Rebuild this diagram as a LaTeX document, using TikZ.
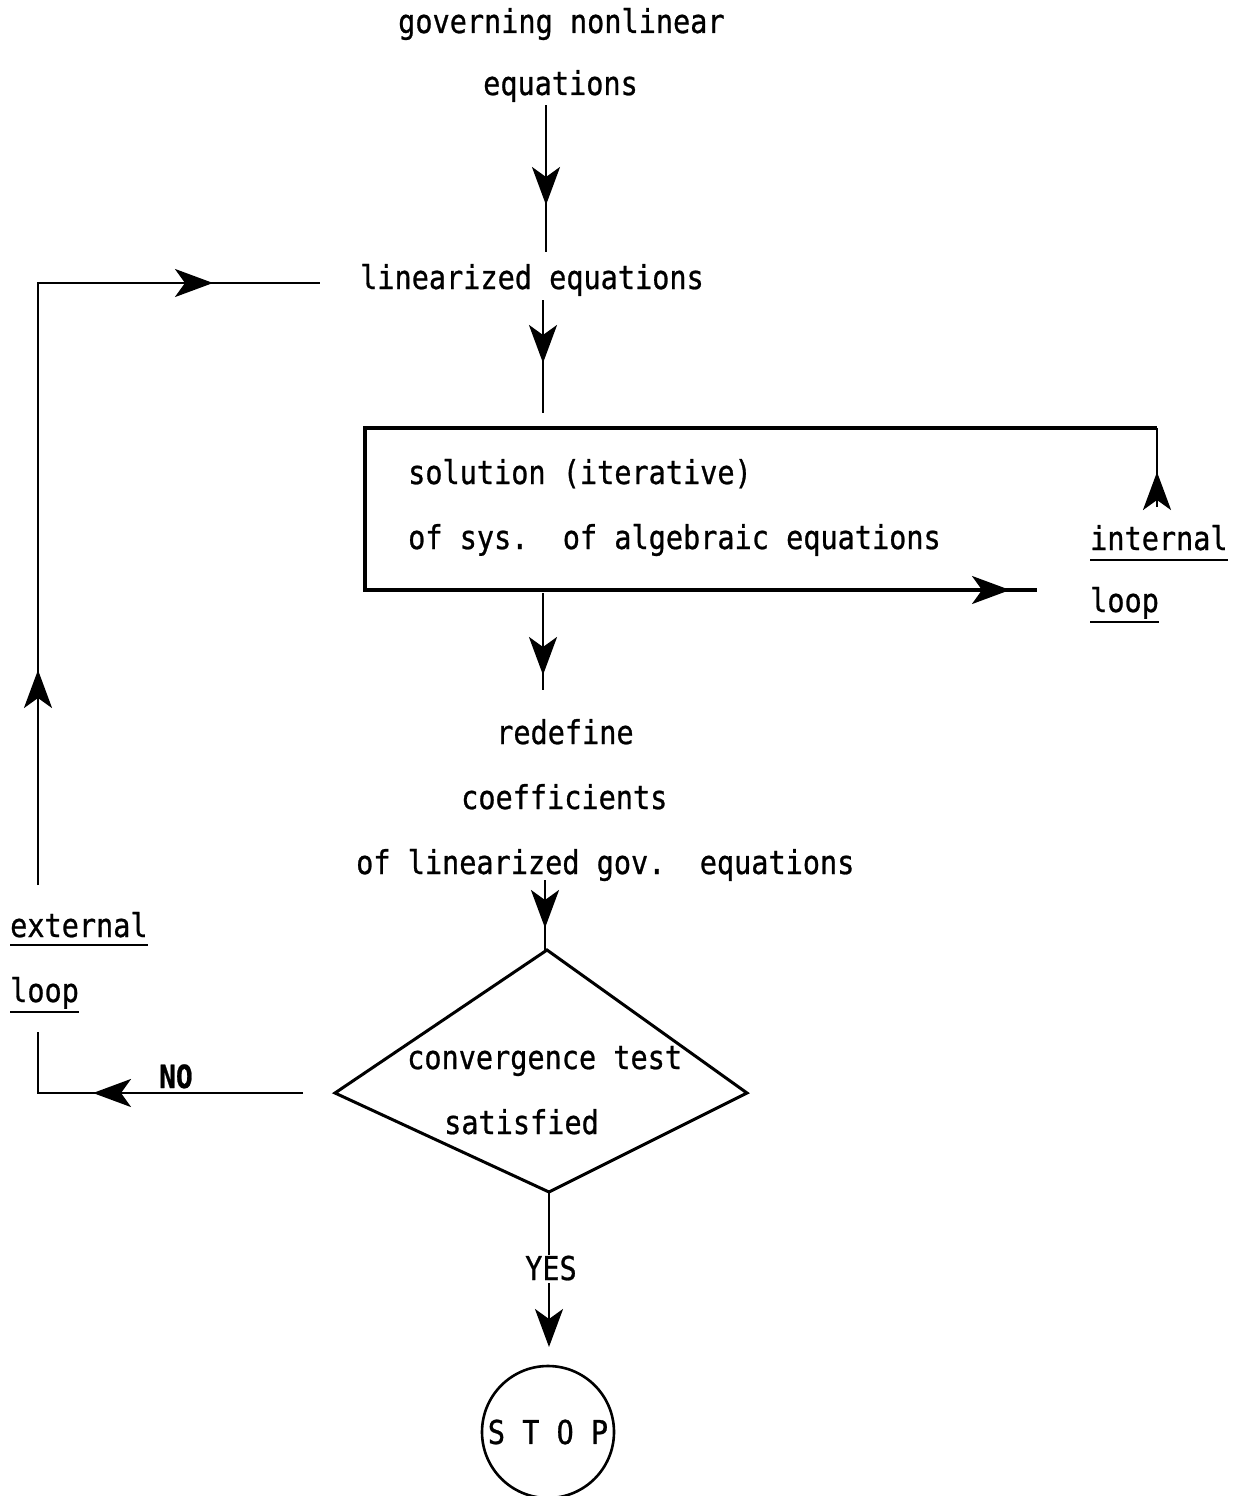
\documentclass[tikz,border=0pt]{standalone}
\usepackage{fontspec}
\setmonofont[FakeStretch=0.87,FakeBold=0.8]{DejaVu Sans Mono}
\usetikzlibrary{arrows.meta,decorations.markings}

\tikzset{
  headtip/.tip={Stealth[length=38pt,width=28pt,inset=10pt]},
  txt/.style={font=\ttfamily\fontsize{32.8}{36}\selectfont, inner sep=0pt, anchor=base west},
  conn/.style={line width=2.8pt},
  frame/.style={line width=3.2pt, line join=miter},
  midarr/.style={postaction={decorate,decoration={markings,
      mark=at position #1 with {\arrow{headtip}}}}},
  ul/.style={line width=2.4pt}
}

\begin{document}
\begin{tikzpicture}[x=1pt,y=-1pt]
\useasboundingbox (0,0) rectangle (1239,1496);

% ---- text lines ----
\node[txt] (gov1) at (398,33) {governing nonlinear};
\node[txt] (gov2) at (483,95) {equations};
\node[txt] (lin)  at (360,289) {linearized equations};
\node[txt] (sol1) at (408,484) {solution (iterative)};
\node[txt] (sol2) at (408,549) {of sys.\ \ of algebraic equations};
\node[txt] (intl) at (1090,550) {internal};
\node[txt] (intl2) at (1090,612) {loop};
\node[txt] (red1) at (496,744) {redefine};
\node[txt] (red2) at (461,809) {coefficients};
\node[txt] (red3) at (356,874) {of linearized gov.\ \ equations};
\node[txt] (extl) at (10,937) {external};
\node[txt] (extl2) at (10,1002) {loop};
\node[txt] (conv1) at (407,1069) {convergence test};
\node[txt] (conv2) at (444,1134) {satisfied};
\node[txt,font=\ttfamily\bfseries\fontsize{32}{36}\selectfont] (no) at (159,1088) {NO};
\node[txt] (yes) at (525,1280) {YES};
\node[circle, draw, line width=2.6pt, minimum size=132pt, inner sep=0pt,
      font=\ttfamily\fontsize{32.8}{36}\selectfont] (stop) at (548,1432) {S T O P};

% ---- underlines of the loop labels ----
\draw[ul] ([yshift=-10pt]intl.base west) -- ([yshift=-10pt]intl.base east);
\draw[ul] ([yshift=-10pt]intl2.base west) -- ([yshift=-10pt]intl2.base east);
\draw[ul] ([yshift=-8pt]extl.base west) -- ([yshift=-8pt]extl.base east);
\draw[ul] ([yshift=-10pt]extl2.base west) -- ([yshift=-10pt]extl2.base east);

% ---- solution box (open on the right) ----
\coordinate (bTL) at (365,428);
\coordinate (bTR) at (1157,428);
\coordinate (bBL) at (365,590);
\coordinate (bOut) at (1037,590);
\coordinate (intStart) at (1157,507);
\draw[frame] (bTR) -- (bTL) -- (bBL) -- (bOut);
\draw[conn, midarr=645pt] (bBL) -- (bOut);
\draw[conn, midarr=35pt] (intStart) -- (bTR);

% ---- decision diamond ----
\coordinate (dTop) at (547,950);
\coordinate (dLeft) at (335,1093);
\coordinate (dRight) at (747,1093);
\coordinate (dBot) at (549,1192);
\draw[line width=3pt, line join=miter] (dTop) -- (dRight) -- (dBot) -- (dLeft) -- cycle;

% ---- main flow ----
\coordinate (a1s) at (546,105);  \coordinate (a1e) at (546,252);
\coordinate (a2s) at (543,300);  \coordinate (a2e) at (543,413);
\coordinate (a3s) at (543,593);  \coordinate (a3e) at (543,690);
\coordinate (a4s) at (545,880);  \coordinate (a4e) at (545,951);
\coordinate (a5e) at (549,1255);
\coordinate (a6s) at (549,1283); \coordinate (a6e) at (549,1347);
\draw[conn, midarr=100pt] (a1s) -- (a1e);
\draw[conn, midarr=63pt] (a2s) -- (a2e);
\draw[conn, midarr=82pt] (a3s) -- (a3e);
\draw[conn, midarr=48pt] (a4s) -- (a4e);
\draw[conn] (dBot) -- (a5e);
\draw[conn, -{headtip}] (a6s) -- (a6e);

% ---- external loop ----
\coordinate (noStart) at (303,1093);
\coordinate (noCorner) at (38,1093);
\coordinate (noEnd) at (38,1032);
\draw[conn, midarr=210pt] (noStart) -- (noCorner) -- (noEnd);
\coordinate (exStart) at (38,885);
\coordinate (exCorner) at (38,283);
\coordinate (exEnd) at (320,283);
\draw[conn, midarr=215pt, postaction={decorate,decoration={markings,
      mark=at position 777pt with {\arrow{headtip}}}}]
  (exStart) -- (exCorner) -- (exEnd);
\end{tikzpicture}
\end{document}
